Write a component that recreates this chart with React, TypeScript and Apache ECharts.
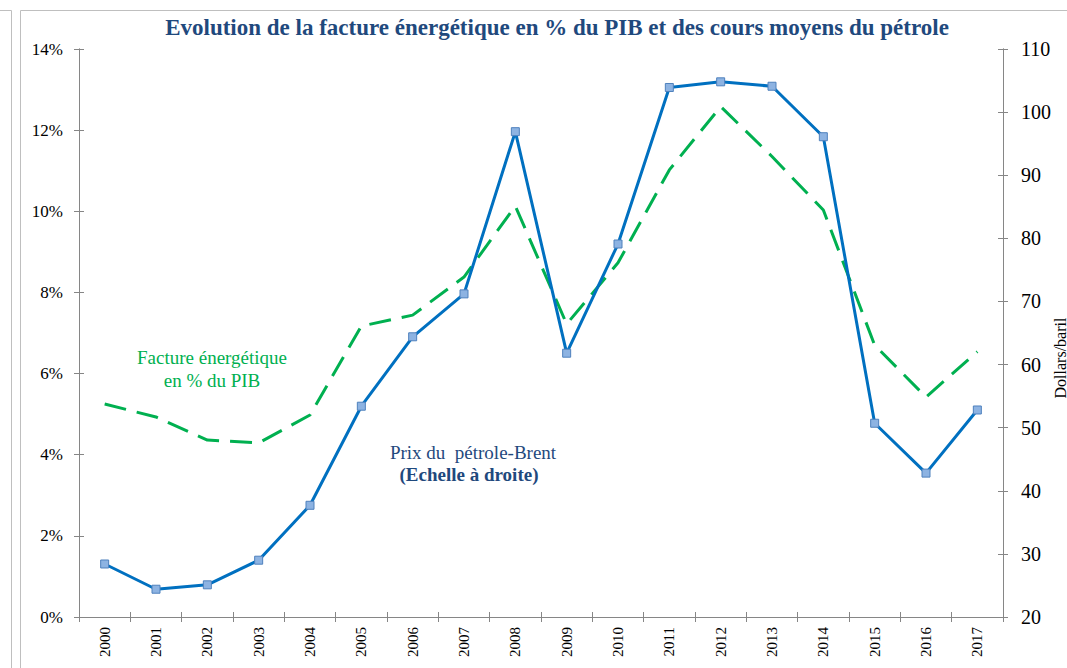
import React, { useEffect, useRef } from "react";
import * as echarts from "echarts";

const years = ["2000","2001","2002","2003","2004","2005","2006","2007","2008","2009","2010","2011","2012","2013","2014","2015","2016","2017"];
// Facture énergétique en % du PIB (left axis)
const factureEnergetique = [5.25, 4.93, 4.36, 4.29, 4.98, 7.17, 7.44, 8.38, 10.13, 7.22, 8.73, 11.02, 12.58, 11.35, 10.03, 6.70, 5.42, 6.54];
// Prix du pétrole Brent, dollars/baril (right axis)
const prixBrent = [28.4, 24.4, 25.1, 29.0, 37.7, 53.4, 64.4, 71.2, 96.9, 61.8, 79.1, 103.9, 104.8, 104.1, 96.1, 50.7, 42.8, 52.8];

const leftMin = 0, leftMax = 14, leftStep = 2;
const rightMin = 20, rightMax = 110, rightStep = 10;

const titleText = "Evolution de la facture énergétique en % du PIB et des cours moyens du pétrole";
const serif = "Liberation Serif";
const axisColor = "#868686";

export default function App() {
  const ref = useRef<HTMLDivElement>(null);
  useEffect(() => {
    if (!ref.current) return;
    const chart = echarts.init(ref.current, undefined, { renderer: "svg" });
    const baseX = {
      type: "category",
      data: years,
      boundaryGap: true,
      axisLine: { show: true, lineStyle: { color: axisColor, width: 1 } },
      splitLine: { show: false },
    };
    const baseY = {
      type: "value",
      splitLine: { show: false },
      axisLine: { show: true, lineStyle: { color: axisColor, width: 1 } },
    };
    chart.setOption({
      animation: false,
      backgroundColor: "#ffffff",
      textStyle: { fontFamily: serif },
      grid: { left: 79, right: 64, top: 49, bottom: 51, containLabel: false },
      xAxis: [
        {
          ...baseX,
          axisTick: { show: true, inside: false, length: 5, lineStyle: { color: axisColor } },
          axisLabel: { rotate: 90, margin: 10, fontSize: 15, fontFamily: serif, color: "#000" },
        },
        {
          ...baseX,
          position: "bottom",
          axisLine: { show: false },
          axisTick: { show: true, inside: true, length: 5, lineStyle: { color: axisColor } },
          axisLabel: { show: false },
        },
      ],
      yAxis: [
        {
          ...baseY,
          position: "left",
          min: leftMin, max: leftMax, interval: leftStep,
          axisTick: { show: true, inside: false, length: 5, lineStyle: { color: axisColor } },
          axisLabel: { formatter: "{value}%", margin: 16, fontSize: 17, fontFamily: serif, color: "#000" },
        },
        {
          ...baseY,
          position: "right",
          min: rightMin, max: rightMax, interval: rightStep,
          axisTick: { show: true, inside: false, length: 5, lineStyle: { color: axisColor } },
          axisLabel: { margin: 18, fontSize: 20, fontFamily: serif, color: "#000" },
        },
        {
          ...baseY,
          position: "left",
          offset: 0,
          min: leftMin, max: leftMax, interval: leftStep,
          axisTick: { show: true, inside: true, length: 5, lineStyle: { color: axisColor } },
          axisLabel: { show: false },
        },
        {
          ...baseY,
          position: "right",
          offset: 0,
          min: rightMin, max: rightMax, interval: rightStep,
          axisTick: { show: true, inside: true, length: 5, lineStyle: { color: axisColor } },
          axisLabel: { show: false },
        },
      ],
      series: [
        {
          name: "Facture énergétique en % du PIB",
          type: "line",
          xAxisIndex: 0,
          yAxisIndex: 0,
          data: factureEnergetique,
          showSymbol: false,
          symbol: "none",
          lineStyle: { color: "#00b050", width: 3, type: [22, 11] },
          itemStyle: { color: "#00b050" },
          z: 2,
        },
        {
          name: "Prix du pétrole-Brent",
          type: "line",
          xAxisIndex: 0,
          yAxisIndex: 1,
          data: prixBrent,
          symbol: "rect",
          symbolSize: 8,
          showSymbol: true,
          lineStyle: { color: "#0070c0", width: 3 },
          itemStyle: { color: "#8db3e2", borderColor: "#4f81bd", borderWidth: 1 },
          z: 3,
        },
      ],
      graphic: [
        {
          type: "polyline",
          shape: { points: [[0, 10.5], [11.5, 10.5], [11.5, 668]] },
          style: { stroke: "#bfbfbf", fill: "none", lineWidth: 1 },
        },
        {
          type: "rect",
          shape: { x: 20.5, y: 10.5, width: 1200, height: 800 },
          style: { stroke: "#bfbfbf", fill: "none", lineWidth: 1 },
        },
        {
          type: "text",
          x: 557,
          y: 27,
          style: {
            text: titleText,
            font: `bold 23px ${serif}`,
            fill: "#1f497d",
            textAlign: "center",
            textVerticalAlign: "middle",
          },
        },
        {
          type: "text",
          x: 212,
          y: 357,
          style: {
            text: "Facture énergétique",
            font: `19px ${serif}`,
            fill: "#00b050",
            textAlign: "center",
            textVerticalAlign: "middle",
          },
        },
        {
          type: "text",
          x: 212,
          y: 380,
          style: {
            text: "en % du PIB",
            font: `19px ${serif}`,
            fill: "#00b050",
            textAlign: "center",
            textVerticalAlign: "middle",
          },
        },
        {
          type: "text",
          x: 473,
          y: 452,
          style: {
            text: "Prix du  pétrole-Brent",
            font: `19px ${serif}`,
            fill: "#1f497d",
            textAlign: "center",
            textVerticalAlign: "middle",
          },
        },
        {
          type: "text",
          x: 469,
          y: 474,
          style: {
            text: "(Echelle à droite)",
            font: `bold 19px ${serif}`,
            fill: "#1f497d",
            textAlign: "center",
            textVerticalAlign: "middle",
          },
        },
        {
          type: "text",
          x: 1060,
          y: 358,
          rotation: Math.PI / 2,
          style: {
            text: "Dollars/baril",
            font: `16px ${serif}`,
            fill: "#000",
            textAlign: "center",
            textVerticalAlign: "middle",
          },
        },
      ],
    });
    return () => chart.dispose();
  }, []);
  return (
    <div
      ref={ref}
      style={{ position: "fixed", left: 0, top: 0, width: 1067, height: 668, background: "#fff" }}
    />
  );
}
